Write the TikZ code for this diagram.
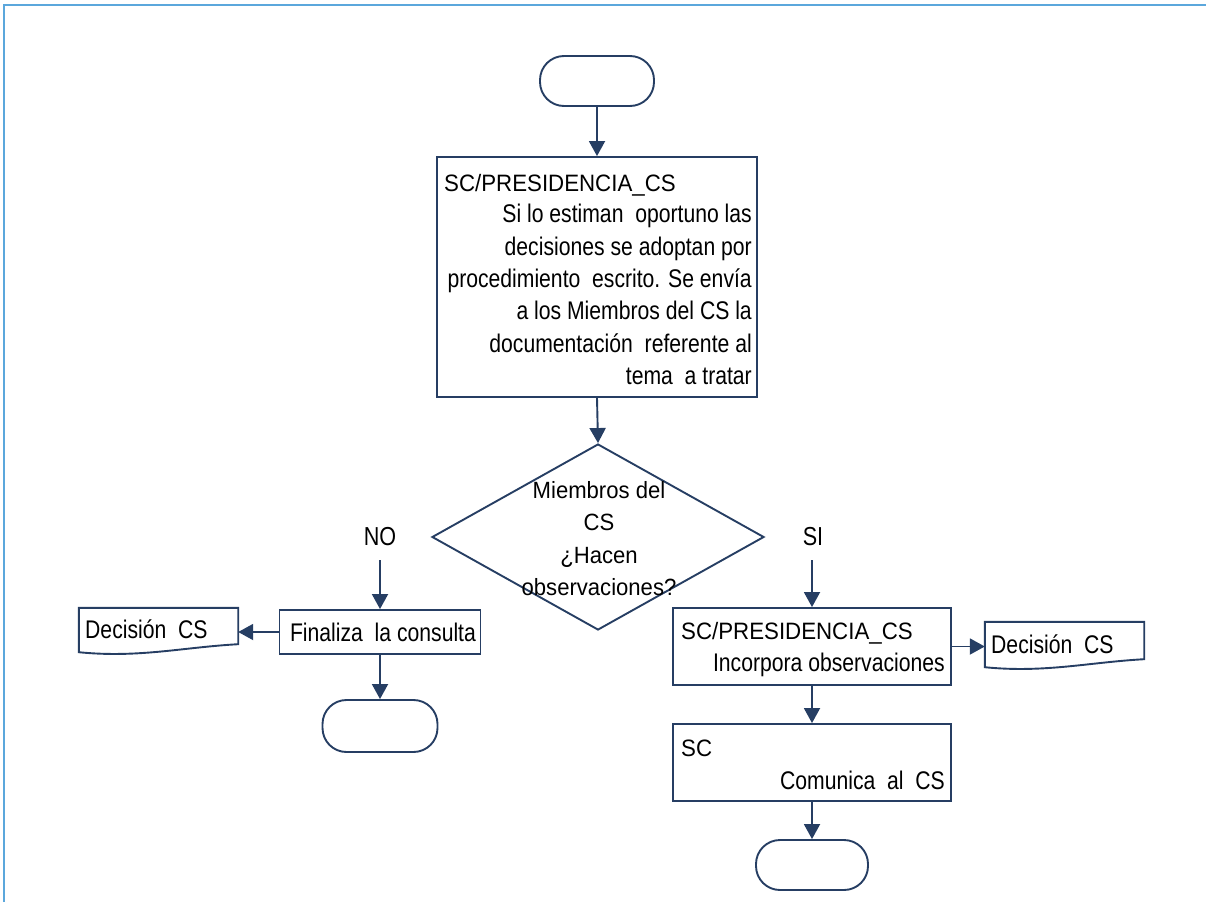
\documentclass[tikz,border=0pt]{standalone}
\usepackage{fontspec}
\setmainfont{Liberation Sans}
\newfontfamily\narrowfont[FakeStretch=0.83]{Liberation Sans}
\newfontfamily\headfont[FakeStretch=0.94]{Liberation Sans}
\usetikzlibrary{shapes.geometric,arrows.meta,calc}

\definecolor{navy}{RGB}{38,62,99}
\definecolor{framebl}{RGB}{91,167,220}

\begin{document}
\begin{tikzpicture}[x=1pt,y=-1pt,
  outline/.style={draw=navy,line width=1.9pt},
  procbox/.style={outline,rectangle,inner sep=0pt},
  termbox/.style={outline,rectangle,rounded corners=24pt,inner sep=0pt},
  docanchor/.style={rectangle,inner sep=0pt},
  decbox/.style={outline,diamond,inner sep=0pt},
  flow/.style={draw=navy,line width=1.9pt,-{Triangle[length=15pt,width=16pt]}},
  bodytxt/.style={font=\narrowfont\fontsize{25.5}{32.4}\selectfont,inner sep=0pt,text=black},
  headtxt/.style={font=\headfont\fontsize{23.7}{28}\selectfont,inner sep=0pt,text=black},
  dectxt/.style={font=\headfont\fontsize{23.5}{32.3}\selectfont,inner sep=0pt,text=black},
  answer/.style={font=\narrowfont\fontsize{26}{30}\selectfont,inner sep=0pt,text=black}]

\useasboundingbox (0,0) rectangle (1206,902);

% page frame (top and left edges)
\draw[framebl,line width=2pt] (4,902) -- (4,5) -- (1206,5);

% shapes
\node[termbox,minimum width=114pt,minimum height=50pt] (start) at (597,81) {};
\node[procbox,minimum width=320pt,minimum height=240pt] (b1) at (597,277) {};
\node[decbox,minimum width=332pt,minimum height=186pt] (dec) at (598,537) {};

\node[procbox,minimum width=201pt,minimum height=44pt,bodytxt] (fin) at (380,632) {\hspace*{6pt}Finaliza\ \ la consulta};
\node[docanchor,minimum width=159pt,minimum height=36pt] (doc1) at (158.5,626) {};
\node[termbox,minimum width=115pt,minimum height=52pt] (end1) at (380,726) {};

\node[procbox,minimum width=278pt,minimum height=77pt] (b2) at (812,646.5) {};
\node[docanchor,minimum width=159pt,minimum height=37pt] (doc2) at (1064.5,640.5) {};
\node[procbox,minimum width=278pt,minimum height=77pt] (b3) at (812,762.5) {};
\node[termbox,minimum width=112pt,minimum height=50pt] (end2) at (812,865) {};

% document shapes with wavy lower edge
\draw[outline] (doc1.north west) -- (doc1.north east) -- (doc1.south east)
  .. controls ($(doc1.south east)+(-55,3)$) and ($(doc1.south west)+(60,14)$)
  .. ($(doc1.south west)+(0,8)$) -- cycle;
\draw[outline] (doc2.north west) -- (doc2.north east) -- (doc2.south east)
  .. controls ($(doc2.south east)+(-55,3)$) and ($(doc2.south west)+(60,14)$)
  .. ($(doc2.south west)+(0,8)$) -- cycle;

% texts
\node[headtxt,anchor=base west] (b1head) at (444,191) {SC/PRESIDENCIA\_CS};
\node[bodytxt,anchor=north east,align=right] (b1body) at (752,204)
  {Si lo estiman\ \ oportuno las\\
   decisiones se adoptan por\\
   procedimiento\ \ escrito. Se envía\\
   a los Miembros del CS la\\
   documentación\ \ referente al\\
   tema\ \ a tratar};

\node[dectxt,anchor=base] (dq1) at (599,498) {Miembros del};
\node[dectxt,anchor=base] (dq2) at (599,530) {CS};
\node[dectxt,anchor=base] (dq3) at (599,563) {¿Hacen};
\node[dectxt,anchor=base] (dq4) at (599,595) {observaciones?};

\node[answer] (no) at (380,537) {NO};
\node[answer] (si) at (813,537) {SI};

\node[bodytxt,anchor=base west] (d1txt) at (85,638) {Decisión\ \ CS};
\node[bodytxt,anchor=base west] (d2txt) at (991,653) {Decisión\ \ CS};

\node[headtxt,anchor=base west] (b2head) at (681,639) {SC/PRESIDENCIA\_CS};
\node[bodytxt,anchor=base east] (b2body) at (945,671) {Incorpora observaciones};
\node[headtxt,anchor=base west] (b3head) at (681,756) {SC};
\node[bodytxt,anchor=base east] (b3body) at (945,789) {Comunica\ \ al\ \ CS};

% connectors
\coordinate (nostart) at (380,560);
\coordinate (sistart) at (812,560);
\draw[flow] (start.south) -- (b1.north);
\draw[flow] (b1.south) -- (dec.north);
\draw[flow] (nostart) -- (fin.north);
\draw[flow] (fin.west) -- (fin.west -| doc1.east);
\draw[flow] (fin.south) -- (end1.north);
\draw[flow] (sistart) -- (b2.north);
\draw[flow] (b2.east) -- (b2.east -| doc2.west);
\draw[flow] (b2.south) -- (b3.north);
\draw[flow] (b3.south) -- (end2.north);
\end{tikzpicture}
\end{document}
